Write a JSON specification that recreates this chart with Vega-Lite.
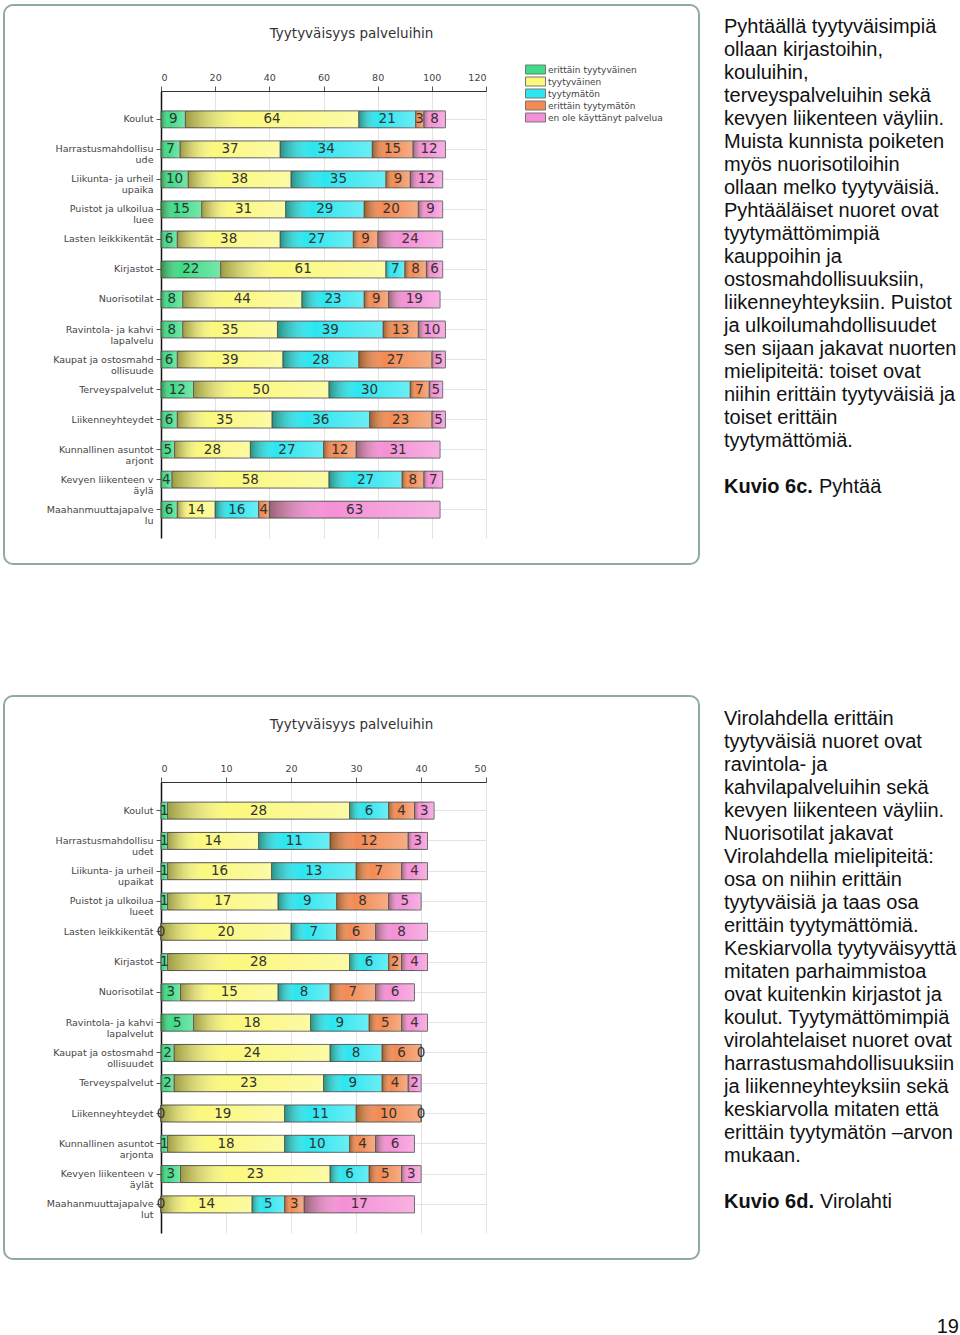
{
  "$schema": "https://vega.github.io/schema/vega-lite/v6.json",
  "background": "white",
  "padding": {"left": 3, "top": 4, "right": 0, "bottom": 0},
  "spacing": 130,
  "datasets": {
    "cats": [
      {"k": "et", "vastaus": "erittäin tyytyväinen", "j": 1},
      {"k": "t", "vastaus": "tyytyväinen", "j": 2},
      {"k": "tm", "vastaus": "tyytymätön", "j": 3},
      {"k": "etm", "vastaus": "erittäin tyytymätön", "j": 4},
      {"k": "eo", "vastaus": "en ole käyttänyt palvelua", "j": 5}
    ],
    "pyhtaa": [
      {"palvelu": "Koulut", "et": 9, "t": 64, "tm": 21, "etm": 3, "eo": 8},
      {"palvelu": "Harrastusmahdollisu|ude", "et": 7, "t": 37, "tm": 34, "etm": 15, "eo": 12},
      {"palvelu": "Liikunta- ja urheil|upaika", "et": 10, "t": 38, "tm": 35, "etm": 9, "eo": 12},
      {"palvelu": "Puistot ja ulkoilua|luee", "et": 15, "t": 31, "tm": 29, "etm": 20, "eo": 9},
      {"palvelu": "Lasten leikkikentät", "et": 6, "t": 38, "tm": 27, "etm": 9, "eo": 24},
      {"palvelu": "Kirjastot", "et": 22, "t": 61, "tm": 7, "etm": 8, "eo": 6},
      {"palvelu": "Nuorisotilat", "et": 8, "t": 44, "tm": 23, "etm": 9, "eo": 19},
      {"palvelu": "Ravintola- ja kahvi|lapalvelu", "et": 8, "t": 35, "tm": 39, "etm": 13, "eo": 10},
      {"palvelu": "Kaupat ja ostosmahd|ollisuude", "et": 6, "t": 39, "tm": 28, "etm": 27, "eo": 5},
      {"palvelu": "Terveyspalvelut", "et": 12, "t": 50, "tm": 30, "etm": 7, "eo": 5},
      {"palvelu": "Liikenneyhteydet", "et": 6, "t": 35, "tm": 36, "etm": 23, "eo": 5},
      {"palvelu": "Kunnallinen asuntot|arjont", "et": 5, "t": 28, "tm": 27, "etm": 12, "eo": 31},
      {"palvelu": "Kevyen liikenteen v|äylä", "et": 4, "t": 58, "tm": 27, "etm": 8, "eo": 7},
      {"palvelu": "Maahanmuuttajapalve|lu", "et": 6, "t": 14, "tm": 16, "etm": 4, "eo": 63}
    ],
    "virolahti": [
      {"palvelu": "Koulut", "et": 1, "t": 28, "tm": 6, "etm": 4, "eo": 3},
      {"palvelu": "Harrastusmahdollisu|udet", "et": 1, "t": 14, "tm": 11, "etm": 12, "eo": 3},
      {"palvelu": "Liikunta- ja urheil|upaikat", "et": 1, "t": 16, "tm": 13, "etm": 7, "eo": 4},
      {"palvelu": "Puistot ja ulkoilua|lueet", "et": 1, "t": 17, "tm": 9, "etm": 8, "eo": 5},
      {"palvelu": "Lasten leikkikentät", "et": 0, "t": 20, "tm": 7, "etm": 6, "eo": 8},
      {"palvelu": "Kirjastot", "et": 1, "t": 28, "tm": 6, "etm": 2, "eo": 4},
      {"palvelu": "Nuorisotilat", "et": 3, "t": 15, "tm": 8, "etm": 7, "eo": 6},
      {"palvelu": "Ravintola- ja kahvi|lapalvelut", "et": 5, "t": 18, "tm": 9, "etm": 5, "eo": 4},
      {"palvelu": "Kaupat ja ostosmahd|ollisuudet", "et": 2, "t": 24, "tm": 8, "etm": 6, "eo": 0},
      {"palvelu": "Terveyspalvelut", "et": 2, "t": 23, "tm": 9, "etm": 4, "eo": 2},
      {"palvelu": "Liikenneyhteydet", "et": 0, "t": 19, "tm": 11, "etm": 10, "eo": 0},
      {"palvelu": "Kunnallinen asuntot|arjonta", "et": 1, "t": 18, "tm": 10, "etm": 4, "eo": 6},
      {"palvelu": "Kevyen liikenteen v|äylät", "et": 3, "t": 23, "tm": 6, "etm": 5, "eo": 3},
      {"palvelu": "Maahanmuuttajapalve|lut", "et": 0, "t": 14, "tm": 5, "etm": 3, "eo": 17}
    ],
    "text1": [
      {"line": 0, "t": "Pyhtäällä tyytyväisimpiä"},
      {"line": 1, "t": "ollaan kirjastoihin,"},
      {"line": 2, "t": "kouluihin,"},
      {"line": 3, "t": "terveyspalveluihin sekä"},
      {"line": 4, "t": "kevyen liikenteen väyliin."},
      {"line": 5, "t": "Muista kunnista poiketen"},
      {"line": 6, "t": "myös nuorisotiloihin"},
      {"line": 7, "t": "ollaan melko tyytyväisiä."},
      {"line": 8, "t": "Pyhtääläiset nuoret ovat"},
      {"line": 9, "t": "tyytymättömimpiä"},
      {"line": 10, "t": "kauppoihin ja"},
      {"line": 11, "t": "ostosmahdollisuuksiin,"},
      {"line": 12, "t": "liikenneyhteyksiin. Puistot"},
      {"line": 13, "t": "ja ulkoilumahdollisuudet"},
      {"line": 14, "t": "sen sijaan jakavat nuorten"},
      {"line": 15, "t": "mielipiteitä: toiset ovat"},
      {"line": 16, "t": "niihin erittäin tyytyväisiä ja"},
      {"line": 17, "t": "toiset erittäin"},
      {"line": 18, "t": "tyytymättömiä."}
    ],
    "text2": [
      {"line": 0, "t": "Virolahdella erittäin"},
      {"line": 1, "t": "tyytyväisiä nuoret ovat"},
      {"line": 2, "t": "ravintola- ja"},
      {"line": 3, "t": "kahvilapalveluihin sekä"},
      {"line": 4, "t": "kevyen liikenteen väyliin."},
      {"line": 5, "t": "Nuorisotilat jakavat"},
      {"line": 6, "t": "Virolahdella mielipiteitä:"},
      {"line": 7, "t": "osa on niihin erittäin"},
      {"line": 8, "t": "tyytyväisiä ja taas osa"},
      {"line": 9, "t": "erittäin tyytymättömiä."},
      {"line": 10, "t": "Keskiarvolla tyytyväisyyttä"},
      {"line": 11, "t": "mitaten parhaimmistoa"},
      {"line": 12, "t": "ovat kuitenkin kirjastot ja"},
      {"line": 13, "t": "koulut. Tyytymättömimpiä"},
      {"line": 14, "t": "virolahtelaiset nuoret ovat"},
      {"line": 15, "t": "harrastusmahdollisuuksiin"},
      {"line": 16, "t": "ja liikenneyhteyksiin sekä"},
      {"line": 17, "t": "keskiarvolla mitaten että"},
      {"line": 18, "t": "erittäin tyytymätön –arvon"},
      {"line": 19, "t": "mukaan."}
    ]
  },
  "vconcat": [
    {
      "spacing": 24,
      "hconcat": [
        {
          "width": 695,
          "height": 559,
          "title": {"text": "Tyytyväisyys palveluihin", "anchor": "middle", "frame": "group", "offset": -35, "fontSize": 13.5, "fontWeight": "normal", "font": "DejaVu Sans", "color": "#333"},
          "data": {"name": "pyhtaa"},
          "transform": [
            {"fold": ["et", "t", "tm", "etm", "eo"], "as": ["k", "n"]},
            {"lookup": "k", "from": {"data": {"name": "cats"}, "key": "k", "fields": ["vastaus", "j"]}},
            {"stack": "n", "groupby": ["palvelu"], "sort": [{"field": "j", "order": "ascending"}], "as": ["x0", "x1"]}
          ],
          "encoding": {
            "y": {"field": "palvelu", "type": "nominal", "sort": null,
              "scale": {"range": [86, 533], "paddingInner": 0.44, "paddingOuter": 0.665},
              "axis": {"title": null, "orient": "left", "offset": -157, "labelExpr": "split(datum.value, '|')", "labelFontSize": 9.5, "labelColor": "#444", "labelPadding": 3, "tickSize": 5, "grid": true, "bandPosition": 0.5, "domainColor": "#111", "domainWidth": 1.5, "labelLineHeight": 11}}
          },
          "layer": [
            {"mark": {"type": "bar", "stroke": "#555", "strokeWidth": 1},
             "encoding": {
               "x": {"field": "x0", "type": "quantitative",
                 "scale": {"domain": [0, 120], "range": [157, 482], "nice": false},
                 "axis": {"title": null, "orient": "top", "offset": -86, "values": [0, 20, 40, 60, 80, 100, 120], "labelFontSize": 9.5, "labelColor": "#444", "tickSize": 5, "grid": true, "labelPadding": 4, "domainColor": "#333"}},
               "x2": {"field": "x1"},
               "color": {"field": "vastaus", "type": "nominal",
               "scale": {"domain": ["erittäin tyytyväinen", "tyytyväinen", "tyytymätön", "erittäin tyytymätön", "en ole käyttänyt palvelua"], "range": ["#3ddc86", "#fbf87e", "#2ce6f0", "#f38a52", "#f590d6"]},
               "legend": {"orient": "none", "legendX": 526, "legendY": 59, "title": null, "symbolType": "M-2,-0.9H2V0.9H-2Z", "symbolSize": 100, "symbolStrokeColor": "#777", "symbolStrokeWidth": 1, "labelFontSize": 9, "labelColor": "#444", "labelFont": "DejaVu Sans", "rowPadding": -1, "labelOffset": 7}}}},
            {"mark": {"type": "bar", "strokeOpacity": 0, "fill": {"gradient": "linear", "x1": 0, "x2": 1, "y1": 0, "y2": 0, "stops": [{"offset": 0, "color": "rgba(40,40,0,0.45)"}, {"offset": 0.35, "color": "rgba(255,255,255,0)"}, {"offset": 1, "color": "rgba(255,255,255,0.3)"}]}},
             "encoding": {"x": {"field": "x0", "type": "quantitative"}, "x2": {"field": "x1"}}},
            {"transform": [
               {"fold": ["x0", "x1"], "as": ["e", "xv"]},
               {"aggregate": [{"op": "mean", "field": "xv", "as": "xm"}], "groupby": ["palvelu", "vastaus", "n"]}
             ],
             "mark": {"type": "text", "fontSize": 13.5, "font": "DejaVu Sans", "color": "#333", "baseline": "middle", "align": "center"},
             "encoding": {"x": {"field": "xm", "type": "quantitative"}, "text": {"field": "n", "type": "quantitative"}}}
          ]
        },
        {
          "width": 235,
          "height": 559,
          "view": {"stroke": null, "fill": null},
          "encoding": {
            "x": {"datum": 0, "type": "quantitative", "scale": {"domain": [0, 1], "nice": false}, "axis": null},
            "y": {"field": "line", "type": "quantitative", "scale": {"domain": [0, 20], "range": [22, 482], "nice": false, "zero": false}, "axis": null},
            "text": {"field": "t"}
          },
          "layer": [
            {"data": {"name": "text1"}, "mark": {"type": "text", "align": "left", "baseline": "middle", "font": "Liberation Sans", "fontSize": 20, "color": "#111"}},
            {"data": {"values": [{"line": 20, "t": "Kuvio 6c."}]}, "mark": {"type": "text", "align": "left", "baseline": "middle", "font": "Liberation Sans", "fontSize": 20, "fontWeight": "bold", "color": "#111"}},
            {"data": {"values": [{"line": 20, "t": "Pyhtää"}]}, "mark": {"type": "text", "align": "left", "baseline": "middle", "font": "Liberation Sans", "fontSize": 20, "dx": 95, "color": "#111"}}
          ]
        }
      ]
    },
    {
      "spacing": 24,
      "hconcat": [
        {
          "width": 695,
          "height": 563,
          "title": {"text": "Tyytyväisyys palveluihin", "anchor": "middle", "frame": "group", "offset": -35, "fontSize": 13.5, "fontWeight": "normal", "font": "DejaVu Sans", "color": "#333"},
          "data": {"name": "virolahti"},
          "transform": [
            {"fold": ["et", "t", "tm", "etm", "eo"], "as": ["k", "n"]},
            {"lookup": "k", "from": {"data": {"name": "cats"}, "key": "k", "fields": ["vastaus", "j"]}},
            {"stack": "n", "groupby": ["palvelu"], "sort": [{"field": "j", "order": "ascending"}], "as": ["x0", "x1"]}
          ],
          "encoding": {
            "y": {"field": "palvelu", "type": "nominal", "sort": null,
              "scale": {"range": [86, 537], "paddingInner": 0.44, "paddingOuter": 0.665},
              "axis": {"title": null, "orient": "left", "offset": -157, "labelExpr": "split(datum.value, '|')", "labelFontSize": 9.5, "labelColor": "#444", "labelPadding": 3, "tickSize": 5, "grid": true, "bandPosition": 0.5, "domainColor": "#111", "domainWidth": 1.5, "labelLineHeight": 11}}
          },
          "layer": [
            {"mark": {"type": "bar", "stroke": "#555", "strokeWidth": 1},
             "encoding": {
               "x": {"field": "x0", "type": "quantitative",
                 "scale": {"domain": [0, 50], "range": [157, 482], "nice": false},
                 "axis": {"title": null, "orient": "top", "offset": -86, "values": [0, 10, 20, 30, 40, 50], "labelFontSize": 9.5, "labelColor": "#444", "tickSize": 5, "grid": true, "labelPadding": 4, "domainColor": "#333"}},
               "x2": {"field": "x1"},
               "color": {"field": "vastaus", "type": "nominal",
               "scale": {"domain": ["erittäin tyytyväinen", "tyytyväinen", "tyytymätön", "erittäin tyytymätön", "en ole käyttänyt palvelua"], "range": ["#3ddc86", "#fbf87e", "#2ce6f0", "#f38a52", "#f590d6"]},
               "legend": {"orient": "none", "legendX": 526, "legendY": 59, "title": null, "symbolType": "M-2,-0.9H2V0.9H-2Z", "symbolSize": 100, "symbolStrokeColor": "#777", "symbolStrokeWidth": 1, "labelFontSize": 9, "labelColor": "#444", "labelFont": "DejaVu Sans", "rowPadding": -1, "labelOffset": 7}}}},
            {"mark": {"type": "bar", "strokeOpacity": 0, "fill": {"gradient": "linear", "x1": 0, "x2": 1, "y1": 0, "y2": 0, "stops": [{"offset": 0, "color": "rgba(40,40,0,0.45)"}, {"offset": 0.35, "color": "rgba(255,255,255,0)"}, {"offset": 1, "color": "rgba(255,255,255,0.3)"}]}},
             "encoding": {"x": {"field": "x0", "type": "quantitative"}, "x2": {"field": "x1"}}},
            {"transform": [
               {"fold": ["x0", "x1"], "as": ["e", "xv"]},
               {"aggregate": [{"op": "mean", "field": "xv", "as": "xm"}], "groupby": ["palvelu", "vastaus", "n"]}
             ],
             "mark": {"type": "text", "fontSize": 13.5, "font": "DejaVu Sans", "color": "#333", "baseline": "middle", "align": "center"},
             "encoding": {"x": {"field": "xm", "type": "quantitative"}, "text": {"field": "n", "type": "quantitative"}}}
          ]
        },
        {
          "width": 235,
          "height": 563,
          "view": {"stroke": null, "fill": null},
          "encoding": {
            "x": {"datum": 0, "type": "quantitative", "scale": {"domain": [0, 1], "nice": false}, "axis": null},
            "y": {"field": "line", "type": "quantitative", "scale": {"domain": [0, 21], "range": [23, 506], "nice": false, "zero": false}, "axis": null},
            "text": {"field": "t"}
          },
          "layer": [
            {"data": {"name": "text2"}, "mark": {"type": "text", "align": "left", "baseline": "middle", "font": "Liberation Sans", "fontSize": 20, "color": "#111"}},
            {"data": {"values": [{"line": 21, "t": "Kuvio 6d."}]}, "mark": {"type": "text", "align": "left", "baseline": "middle", "font": "Liberation Sans", "fontSize": 20, "fontWeight": "bold", "color": "#111"}},
            {"data": {"values": [{"line": 21, "t": "Virolahti"}]}, "mark": {"type": "text", "align": "left", "baseline": "middle", "font": "Liberation Sans", "fontSize": 20, "dx": 96, "color": "#111"}},
            {"data": {"values": [{"line": 26.45, "t": "19"}]}, "mark": {"type": "text", "align": "right", "baseline": "middle", "font": "Liberation Sans", "fontSize": 20, "color": "#111"}, "encoding": {"x": {"datum": 1, "type": "quantitative"}}}
          ]
        }
      ]
    }
  ],
  "config": {
    "font": "DejaVu Sans",
    "view": {"stroke": "#8fa8a8", "strokeWidth": 2, "cornerRadius": 9, "fill": "white"},
    "axis": {"labelFont": "DejaVu Sans", "tickColor": "#555", "gridColor": "#e3e3e3", "gridWidth": 1}
  }
}
